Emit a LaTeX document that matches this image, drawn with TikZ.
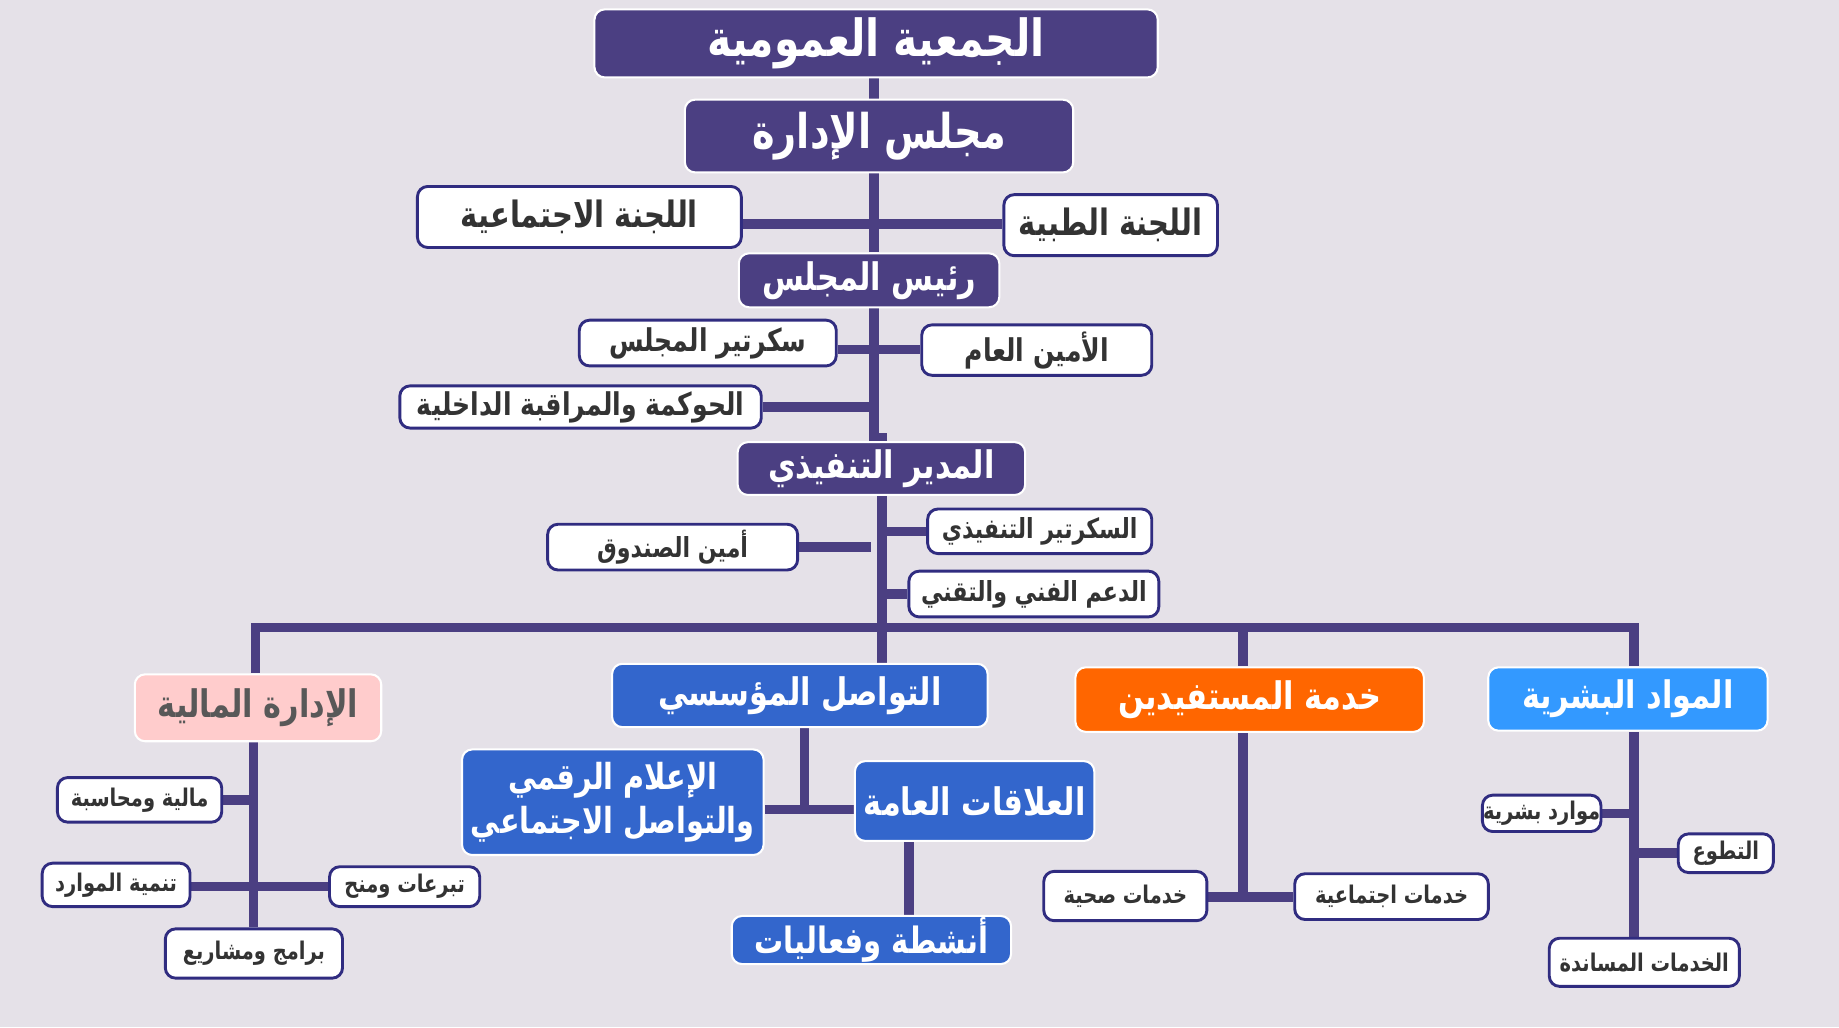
\documentclass[tikz,border=0pt]{standalone}
\usepackage{fontspec}
\usetikzlibrary{backgrounds}
\TeXXeTstate=1
\newfontfamily\arabicfont[Script=Arabic,FakeStretch=0.8]{DejaVu Sans}
\newcommand{\rtl}[1]{\beginR#1\endR}
\definecolor{paper}{RGB}{229,225,232}
\definecolor{navy}{RGB}{75,63,130}
\definecolor{edge}{RGB}{48,44,128}
\definecolor{ink}{RGB}{51,51,51}
\definecolor{rose}{RGB}{255,204,204}
\definecolor{rosetext}{RGB}{88,88,88}
\definecolor{deptblue}{RGB}{51,102,204}
\definecolor{deptorange}{RGB}{255,102,0}
\definecolor{deptsky}{RGB}{51,153,255}
\begin{document}
\begin{tikzpicture}[x=0.01cm,y=-0.01cm,line join=miter]
\tikzset{
  boxsize/.style 2 args={minimum width=#1cm,minimum height=#2cm},
  box/.style={rounded corners=2.5pt,inner sep=0pt,align=center},
  headbox/.style={box,fill=navy,draw=white,line width=0.5pt,text=white},
  deptbox/.style={box,fill=#1,draw=white,line width=0.5pt,text=white},
  leafbox/.style={box,fill=white,draw=edge,line width=0.7pt,text=ink},
  sizeA/.style={font=\arabicfont\bfseries\fontsize{#1}{14}\selectfont},
  sizeA/.default=12,
  sizeB/.style={font=\arabicfont\bfseries\fontsize{#1}{10.8}\selectfont},
  sizeB/.default=9.2,
  sizeC/.style={font=\arabicfont\bfseries\fontsize{#1}{9}\selectfont},
  sizeC/.default=7.6,
  sizeD/.style={font=\arabicfont\bfseries\fontsize{5.9}{7}\selectfont},
  link/.style={draw=navy,line width=2.3pt}
}
\useasboundingbox (0,0) rectangle (1568,876);
% board levels
\node[headbox,sizeA=12.4,boxsize={4.80}{0.58}] (ga) at (747,37) {\rtl{الجمعية العمومية}};
\node[headbox,sizeA=11.6,boxsize={3.31}{0.62}] (board) at (749.5,116) {\rtl{مجلس الإدارة}};
\node[leafbox,sizeB=8.8,boxsize={2.76}{0.52}] (social) at (494,185) {\rtl{اللجنة الاجتماعية}};
\node[leafbox,sizeB=8.8,boxsize={1.82}{0.52}] (medical) at (947,192) {\rtl{اللجنة الطبية}};
\node[headbox,sizeB,boxsize={2.22}{0.46}] (chair) at (741,239) {\rtl{رئيس المجلس}};
\node[leafbox,sizeC,boxsize={2.19}{0.39}] (bsec) at (603.5,292.5) {\rtl{سكرتير المجلس}};
\node[leafbox,sizeC,boxsize={1.96}{0.43}] (gensec) at (884,298.5) {\rtl{الأمين العام}};
\node[leafbox,sizeC,boxsize={3.08}{0.36}] (gov) at (495,347) {\rtl{الحوكمة والمراقبة الداخلية}};
% executive level
\node[headbox,sizeB,boxsize={2.45}{0.45}] (exec) at (751.5,399.5) {\rtl{المدير التنفيذي}};
\node[leafbox,sizeC=6.7,boxsize={1.91}{0.38}] (esec) at (886.5,453) {\rtl{السكرتير التنفيذي}};
\node[leafbox,sizeC=6.7,boxsize={2.13}{0.39}] (treas) at (573.5,466.5) {\rtl{أمين الصندوق}};
\node[leafbox,sizeC=6.7,boxsize={2.13}{0.39}] (tech) at (881.5,506.5) {\rtl{الدعم الفني والتقني}};
% departments
\node[box,sizeB,fill=rose,draw=white,line width=0.5pt,text=rosetext,boxsize={2.10}{0.57}] (fin) at (220,603.5) {\rtl{الإدارة المالية}};
\node[deptbox=deptblue,sizeB,boxsize={3.20}{0.54}] (comm) at (682,593) {\rtl{التواصل المؤسسي}};
\node[deptbox=deptorange,sizeB,boxsize={2.97}{0.55}] (benef) at (1065.5,596.5) {\rtl{خدمة المستفيدين}};
\node[deptbox=deptsky,sizeB,boxsize={2.38}{0.54}] (hr) at (1388,596) {\rtl{المواد البشرية}};
% units
\node[deptbox=deptblue,sizeB=8.7,boxsize={2.57}{0.90}] (media) at (522.5,684) {\rtl{الإعلام الرقمي}\\\rtl{والتواصل الاجتماعي}};
\node[deptbox=deptblue,sizeB,boxsize={2.04}{0.68}] (pr) at (831,683) {\rtl{العلاقات العامة}};
\node[deptbox=deptblue,sizeB=8.8,boxsize={2.38}{0.41}] (events) at (743,801.5) {\rtl{أنشطة وفعاليات}};
\node[leafbox,sizeD,boxsize={1.40}{0.38}] (acc) at (119,682) {\rtl{مالية ومحاسبة}};
\node[leafbox,sizeD,boxsize={1.26}{0.37}] (resdev) at (99,754.5) {\rtl{تنمية الموارد}};
\node[leafbox,sizeD,boxsize={1.28}{0.34}] (donat) at (345,756) {\rtl{تبرعات ومنح}};
\node[leafbox,sizeD,boxsize={1.51}{0.42}] (proj) at (216.5,813) {\rtl{برامج ومشاريع}};
\node[leafbox,sizeD,boxsize={1.39}{0.42}] (health) at (959.5,764) {\rtl{خدمات صحية}};
\node[leafbox,sizeD,boxsize={1.65}{0.39}] (socsv) at (1186.5,764.5) {\rtl{خدمات اجتماعية}};
\node[leafbox,sizeD,boxsize={1.01}{0.31}] (hres) at (1314.5,693.5) {\rtl{موارد بشرية}};
\node[leafbox,sizeD,boxsize={0.81}{0.33}] (volun) at (1471.5,727.5) {\rtl{التطوع}};
\node[leafbox,sizeD,boxsize={1.62}{0.41}] (support) at (1402,820.5) {\rtl{الخدمات المساندة}};
\begin{scope}[on background layer]
\fill[paper] (0,0) rectangle (1568,876);
% trunk
\draw[link] (745,0 |- ga.south) -- (745,0 |- board.north);
\draw[link] (745,0 |- board.south) -- (745,0 |- chair.north);
\draw[link] (social.east |- 0,191) -- (medical.west |- 0,191);
\draw[link] (745,0 |- chair.south) -- (745,373) -- (752,373) -- (752,0 |- exec.north);
\draw[link] (bsec.east |- 0,298) -- (gensec.west |- 0,298);
\draw[link] (gov.east) -- (745,0 |- gov.east);
\draw[link] (752,0 |- exec.south) -- (752,0 |- comm.north);
\draw[link] (752,0 |- esec.west) -- (esec.west);
\draw[link] (752,0 |- tech.west) -- (tech.west);
\draw[link] (treas.east) -- (743,0 |- treas.east);
% departments bar
\draw[link] (218,0 |- fin.north) -- (218,535) -- (1393,535) -- (1393,0 |- hr.north);
\draw[link] (1060,535) -- (1060,0 |- benef.north);
% finance
\draw[link] (216,0 |- fin.south) -- (216,0 |- proj.north);
\draw[link] (acc.east) -- (216,0 |- acc.east);
\draw[link] (resdev.east |- donat.west) -- (donat.west);
% communication
\draw[link] (686,0 |- comm.south) -- (686,690);
\draw[link] (media.east |- 0,690) -- (pr.west |- 0,690);
\draw[link] (775,0 |- pr.south) -- (775,0 |- events.north);
% beneficiaries
\draw[link] (1060,0 |- benef.south) -- (1060,765);
\draw[link] (health.east |- 0,765) -- (socsv.west |- 0,765);
% human resources
\draw[link] (1393,0 |- hr.south) -- (1393,0 |- support.north);
\draw[link] (hres.east) -- (1393,0 |- hres.east);
\draw[link] (1393,0 |- volun.west) -- (volun.west);
\end{scope}
\end{tikzpicture}
\end{document}
